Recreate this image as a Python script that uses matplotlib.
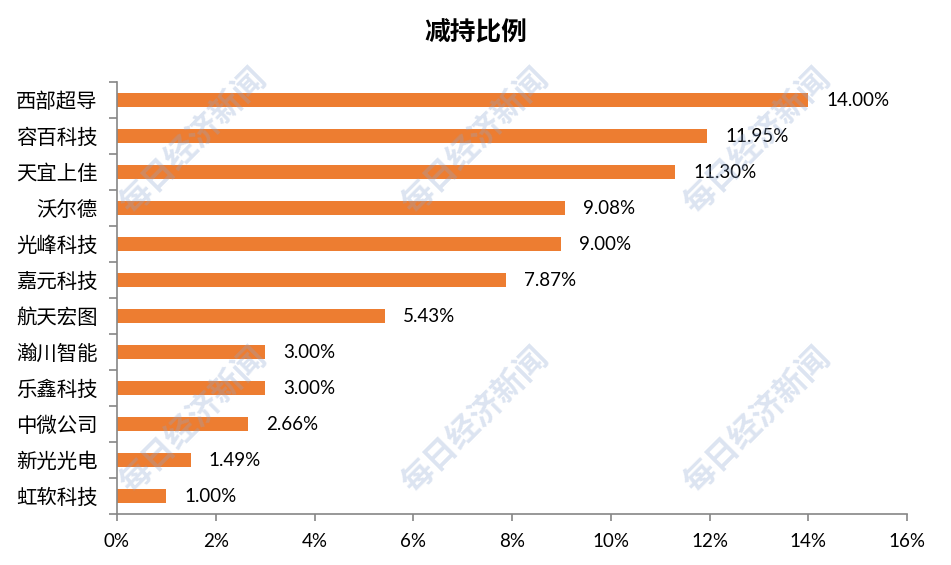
import matplotlib
matplotlib.use("Agg")
import matplotlib.pyplot as plt
from matplotlib.ticker import FixedLocator, PercentFormatter

plt.rcParams['font.family'] = ['Noto Sans CJK SC', 'DejaVu Sans']

# ---- data ----
title = "减持比例"
companies = ["西部超导", "容百科技", "天宜上佳", "沃尔德", "光峰科技", "嘉元科技",
             "航天宏图", "瀚川智能", "乐鑫科技", "中微公司", "新光光电", "虹软科技"]
ratios = [14.00, 11.95, 11.30, 9.08, 9.00, 7.87, 5.43, 3.00, 3.00, 2.66, 1.49, 1.00]
x_ticks = [0, 2, 4, 6, 8, 10, 12, 14, 16]
watermark = "每日经济新闻"

W, H = 951, 565
fig = plt.figure(figsize=(W / 100, H / 100), dpi=100)
ax = fig.add_axes([117 / W, 1 - 514 / H, 790 / W, 432 / H])

ypos = list(range(len(companies)))
bars = ax.barh(ypos, ratios, height=0.4, color="#ED7D31", zorder=2)

ax.set_xlim(0, 16)
ax.set_ylim(len(companies) - 0.5, -0.5)

# value labels
for y, v in zip(ypos, ratios):
    ax.annotate(f"{v:.2f}%", xy=(v, y), xytext=(13, 0), textcoords="offset points",
                ha="left", va="center", fontsize=13.5, family=["Lato", "DejaVu Sans"],
                color="black")

# y axis
ax.set_yticks(ypos)
ax.set_yticklabels(companies, fontsize=14.7)
ax.tick_params(axis="y", which="major", length=0, pad=14)
ax.yaxis.set_minor_locator(FixedLocator([k - 0.5 for k in range(len(companies) + 1)]))
ax.tick_params(axis="y", which="minor", length=6, width=1.2, color="#868686", direction="out")

# x axis
ax.set_xticks(x_ticks)
ax.xaxis.set_major_formatter(PercentFormatter(decimals=0))
ax.tick_params(axis="x", length=5, width=1.2, color="#868686", pad=9)
for lab in ax.get_xticklabels():
    lab.set_fontfamily(["Lato", "DejaVu Sans"])
    lab.set_fontsize(13.5)

for s in ["top", "right"]:
    ax.spines[s].set_visible(False)
for s in ["left", "bottom"]:
    ax.spines[s].set_color("#868686")
    ax.spines[s].set_linewidth(1.2)

fig.text(476 / W, 1 - 33 / H, title, ha="center", va="center", fontsize=18.5,
         fontweight="bold")

# watermarks
for cx in (193, 475, 757):
    for cy in (142, 421):
        fig.text(cx / W, 1 - cy / H, watermark, ha="center", va="center",
                 rotation=45, rotation_mode="anchor", fontsize=23, fontweight="bold",
                 color=(0.55, 0.65, 0.82), alpha=0.3, zorder=10)

fig.savefig("out.png", dpi=100)
